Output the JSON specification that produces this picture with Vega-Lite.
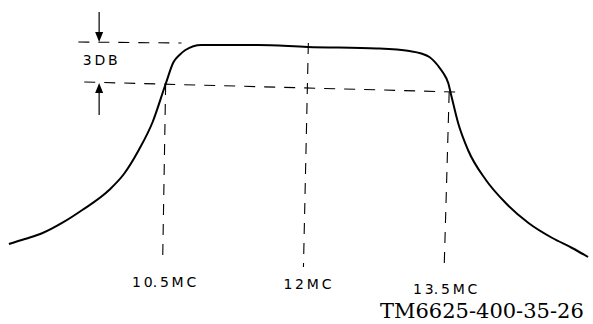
{
  "$schema": "https://vega.github.io/schema/vega-lite/v6.json",
  "width": 593,
  "height": 324,
  "autosize": {"type": "fit", "contains": "padding"},
  "padding": 0,
  "background": "white",
  "config": {"view": {"stroke": null}},
  "datasets": {
    "curve": [
      {"f": 8.847, "db": -15.0},
      {"f": 9.016, "db": -14.625},
      {"f": 9.205, "db": -14.175},
      {"f": 9.416, "db": -13.4},
      {"f": 9.626, "db": -12.45},
      {"f": 9.911, "db": -10.95},
      {"f": 10.068, "db": -9.75},
      {"f": 10.226, "db": -7.95},
      {"f": 10.373, "db": -5.85},
      {"f": 10.511, "db": -3.0},
      {"f": 10.595, "db": -1.35},
      {"f": 10.658, "db": -0.825},
      {"f": 10.721, "db": -0.45},
      {"f": 10.889, "db": -0.075},
      {"f": 11.489, "db": -0.075},
      {"f": 12.016, "db": -0.225},
      {"f": 12.753, "db": -0.3375},
      {"f": 13.1, "db": -0.525},
      {"f": 13.226, "db": -0.7125},
      {"f": 13.311, "db": -0.975},
      {"f": 13.405, "db": -1.65},
      {"f": 13.458, "db": -2.175},
      {"f": 13.511, "db": -2.925},
      {"f": 13.542, "db": -3.825},
      {"f": 13.616, "db": -5.925},
      {"f": 13.721, "db": -7.95},
      {"f": 13.911, "db": -10.2},
      {"f": 14.121, "db": -11.925},
      {"f": 14.363, "db": -13.425},
      {"f": 14.616, "db": -14.55},
      {"f": 14.826, "db": -15.3},
      {"f": 14.995, "db": -15.975}
    ],
    "dashed": [
      {"f": 10.511, "db": -3.0, "f2": 10.479, "db2": -16.425},
      {"f": 12.026, "db": 0.075, "f2": 11.974, "db2": -16.725},
      {"f": 13.521, "db": -3.6, "f2": 13.468, "db2": -16.725},
      {"f": 9.647, "db": -2.85, "f2": 13.595, "db2": -3.6},
      {"f": 9.584, "db": 0.15, "f2": 10.679, "db2": 0.075}
    ],
    "shafts": [
      {"f": 9.805, "db": 2.4, "f2": 9.805, "db2": 0.6},
      {"f": 9.805, "db": -3.45, "f2": 9.805, "db2": -5.325}
    ],
    "headDown": [{"f": 9.805, "db": 0.525}],
    "headUp": [{"f": 9.805, "db": -3.3}],
    "labels": [
      {"f": 9.816, "db": -1.275, "t": "3\u2009D\u2009B"},
      {"f": 10.495, "db": -17.925, "t": "1\u20090.\u20095\u2009M\u2009C"},
      {"f": 12.016, "db": -18.075, "t": "1\u20092\u2009M\u2009C"},
      {"f": 13.479, "db": -18.45, "t": "1\u20093.\u20095\u2009M\u2009C"}
    ],
    "caption": [{"f": 13.868, "db": -20.55, "t": "TM6625-400-35-26"}]
  },
  "encoding": {
    "x": {"field": "f", "type": "quantitative", "scale": {"domain": [8.7526, 14.9947], "nice": false, "zero": false}, "axis": null},
    "y": {"field": "db", "type": "quantitative", "scale": {"domain": [-21, 3.3], "nice": false, "zero": false}, "axis": null}
  },
  "layer": [
    {
      "data": {"name": "dashed"},
      "mark": {"type": "rule", "color": "black", "strokeWidth": 1.1, "strokeDash": [11, 9]},
      "encoding": {"x2": {"field": "f2"}, "y2": {"field": "db2"}}
    },
    {
      "data": {"name": "shafts"},
      "mark": {"type": "rule", "color": "black", "strokeWidth": 1.2},
      "encoding": {"x2": {"field": "f2"}, "y2": {"field": "db2"}}
    },
    {
      "data": {"name": "headDown"},
      "mark": {"type": "point", "shape": "M-0.8,-1L0.8,-1L0,1Z", "filled": true, "color": "black", "size": 100, "opacity": 1}
    },
    {
      "data": {"name": "headUp"},
      "mark": {"type": "point", "shape": "M-0.8,1L0.8,1L0,-1Z", "filled": true, "color": "black", "size": 100, "opacity": 1}
    },
    {
      "data": {"name": "curve"},
      "mark": {"type": "line", "color": "black", "strokeWidth": 2, "interpolate": "monotone"}
    },
    {
      "data": {"name": "labels"},
      "mark": {"type": "text", "font": "DejaVu Sans", "fontSize": 14, "color": "black", "align": "center", "baseline": "middle"},
      "encoding": {"text": {"field": "t"}}
    },
    {
      "data": {"name": "caption"},
      "mark": {"type": "text", "font": "DejaVu Serif", "fontSize": 21, "color": "black", "align": "center", "baseline": "alphabetic"},
      "encoding": {"text": {"field": "t"}}
    }
  ]
}
